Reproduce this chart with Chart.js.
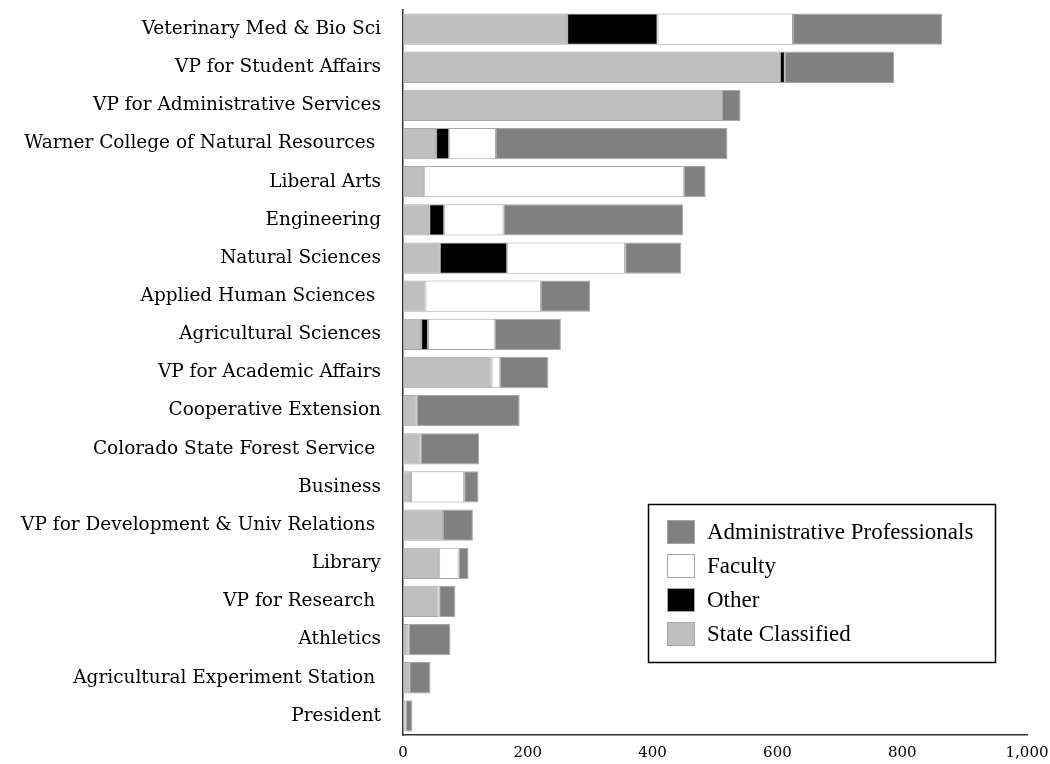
<!DOCTYPE html>
<html>
<head>
<meta charset="utf-8">
<script src="https://cdn.jsdelivr.net/npm/chart.js@4"></script>
<style>
  html, body { margin: 0; padding: 0; background: #fff; }
  #wrap { width: 1050px; height: 764px; position: relative; }
</style>
</head>
<body>
<div id="wrap"><canvas id="chart_1"></canvas></div>
<script>
// units by employee type
var units = [
    "Veterinary Med & Bio Sci",
    "VP for Student Affairs",
    "VP for Administrative Services",
    "Warner College of Natural Resources ",
    "Liberal Arts",
    "Engineering",
    "Natural Sciences",
    "Applied Human Sciences ",
    "Agricultural Sciences",
    "VP for Academic Affairs",
    "Cooperative Extension",
    "Colorado State Forest Service ",
    "Business",
    "VP for Development & Univ Relations ",
    "Library",
    "VP for Research ",
    "Athletics",
    "Agricultural Experiment Station ",
    "President"
]
var stateClassified = [263, 604, 511, 53, 34, 42, 59, 36, 29, 142, 22, 28, 13, 64, 58, 57, 9, 10, 4]
var other = [145, 8, 0, 21, 0, 24, 108, 0, 11, 0, 0, 0, 0, 0, 0, 1, 0, 0, 0]
var faculty = [217, 0, 0, 75, 416, 95, 189, 185, 107, 13, 0, 0, 85, 0, 31, 0, 0, 0, 0]
var adminPro = [239, 175, 30, 371, 35, 288, 90, 79, 106, 78, 165, 94, 23, 48, 16, 26, 67, 34, 11]
var xTicks = [0, 200, 400, 600, 800, 1000]

var axisFont = "'DejaVu Serif', serif"
var legendFont = "'Liberation Serif', 'Times New Roman', serif"

// legend drawn inside the plot, in a box
var boxLegend = {
    id: "boxLegend",
    afterDraw: function (chart) {
        var ctx = chart.ctx
        var items = chart.data.datasets.slice().reverse()
        ctx.save()
        ctx.strokeStyle = "#000"
        ctx.lineWidth = 1.5
        ctx.strokeRect(648.5, 504.5, 347, 158)
        ctx.font = "23px " + legendFont
        ctx.textBaseline = "middle"
        ctx.textAlign = "left"
        items.forEach(function (ds, i) {
            var y = 520 + i * 34
            ctx.fillStyle = ds.backgroundColor
            ctx.fillRect(667, y, 28, 24)
            ctx.strokeStyle = "#a6a6a6"
            ctx.lineWidth = 1
            ctx.strokeRect(667.5, y + 0.5, 27, 23)
            ctx.fillStyle = "#000"
            ctx.fillText(ds.label, 707, y + 13)
        })
        ctx.restore()
    }
}

var config_1 = {
    type: "bar",
    data: {
        labels: units,
        datasets: [
            { label: "State Classified", data: stateClassified, backgroundColor: "#bfbfbf" },
            { label: "Other", data: other, backgroundColor: "#000000" },
            { label: "Faculty", data: faculty, backgroundColor: "#ffffff" },
            { label: "Administrative Professionals", data: adminPro, backgroundColor: "#808080" }
        ]
    },
    options: {
        indexAxis: "y",
        responsive: true,
        maintainAspectRatio: false,
        animation: false,
        datasets: {
            bar: {
                categoryPercentage: 1,
                barPercentage: 0.82,
                borderColor: "#a6a6a6",
                borderWidth: 1,
                borderSkipped: false
            }
        },
        layout: { padding: { top: 10, right: 23, bottom: 0, left: 0 } },
        plugins: {
            legend: { display: false },
            tooltip: { enabled: false }
        },
        scales: {
            x: {
                stacked: true,
                min: 0,
                max: 1000,
                afterBuildTicks: function (scale) {
                    scale.ticks = xTicks.map(function (v) { return { value: v } })
                },
                afterFit: function (scale) {
                    scale.height = 29
                    scale.paddingLeft = 0
                    scale.paddingRight = 0
                },
                grid: { display: false, drawTicks: false },
                border: { display: true, color: "#333", width: 1.5 },
                ticks: {
                    color: "#000",
                    padding: 9,
                    font: { family: axisFont, size: 15 },
                    maxRotation: 0
                }
            },
            y: {
                stacked: true,
                grid: { display: false, drawTicks: false },
                border: { display: true, color: "#333", width: 1.5 },
                afterFit: function (scale) {
                    scale.width = 403
                    scale.paddingTop = 0
                    scale.paddingBottom = 0
                },
                ticks: {
                    color: "#000",
                    padding: 22,
                    autoSkip: false,
                    font: { family: axisFont, size: 18.5 }
                }
            }
        }
    },
    plugins: [boxLegend]
}

var CHART_1 = new Chart(document.getElementById("chart_1"), config_1)
</script>
</body>
</html>
